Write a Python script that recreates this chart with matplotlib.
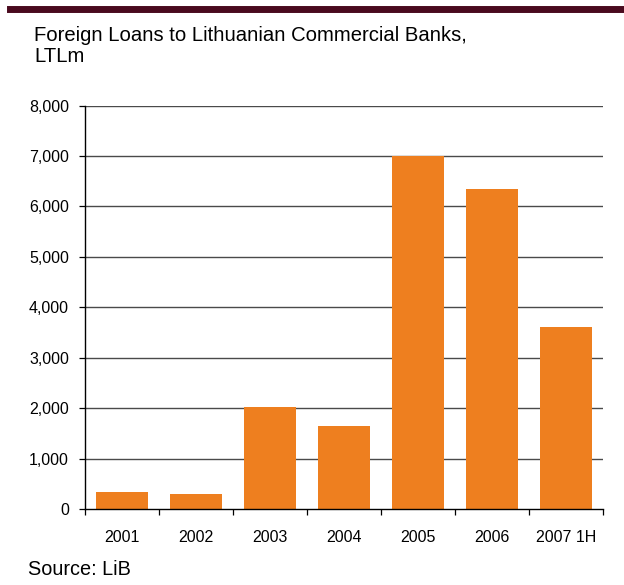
import matplotlib
matplotlib.use("Agg")
import matplotlib.pyplot as plt
from matplotlib.ticker import FuncFormatter, FixedLocator
from matplotlib.lines import Line2D

plt.rcParams['font.family'] = ['Liberation Sans', 'DejaVu Sans']

categories = ["2001", "2002", "2003", "2004", "2005", "2006", "2007 1H"]
loans = [340, 300, 2030, 1650, 7000, 6350, 3610]
y_ticks = [0, 1000, 2000, 3000, 4000, 5000, 6000, 7000, 8000]

bar_color = "#EE7F1F"
grid_color = "#4a4a4a"

W, H = 624, 585
fig = plt.figure(figsize=(W / 100, H / 100), dpi=100)
ax = fig.add_axes([85 / W, 1 - 509 / H, (603 - 85) / W, (509 - 105.5) / H])

x = list(range(len(categories)))
ax.bar(x, loans, width=0.71, color=bar_color, zorder=3)

ax.set_xlim(-0.5, len(categories) - 0.5)
ax.set_ylim(y_ticks[0], y_ticks[-1])
ax.set_yticks(y_ticks)
ax.yaxis.set_major_formatter(FuncFormatter(lambda v, p: f"{int(v):,}"))
ax.tick_params(axis="y", direction="out", length=4.5, width=0.9, pad=7,
               labelsize=11.5, colors="black")

# category labels centred under bars, tick marks at category boundaries
ax.set_xticks(x)
ax.set_xticklabels(categories)
ax.tick_params(axis="x", which="major", length=0, pad=15, labelsize=11.5)
ax.xaxis.set_minor_locator(FixedLocator([i - 0.5 for i in range(len(categories) + 1)]))
ax.tick_params(axis="x", which="minor", direction="out", length=4.5, width=0.9)

for v in y_ticks[1:]:
    ax.axhline(v, color=grid_color, linewidth=1.0, zorder=1)

for side in ("top", "right"):
    ax.spines[side].set_visible(False)
ax.spines["left"].set_linewidth(1.0)
ax.spines["bottom"].set_linewidth(1.0)
ax.spines["left"].set_zorder(4)
ax.spines["bottom"].set_zorder(4)

# header rule
fig.add_artist(Line2D([10 / W, 1.0], [1 - 8.5 / H, 1 - 8.5 / H],
                      color="#4a0a1e", linewidth=5, transform=fig.transFigure))

fig.text(34 / W, 1 - 41 / H, "Foreign Loans to Lithuanian Commercial Banks,",
         fontsize=14.6, va="baseline", ha="left")
fig.text(34 / W, 1 - 62 / H, "LTLm", fontsize=14.6, va="baseline", ha="left")
fig.text(28 / W, 1 - 575 / H, "Source: LiB", fontsize=14.3, va="baseline", ha="left")

fig.savefig("out.png", dpi=100)
